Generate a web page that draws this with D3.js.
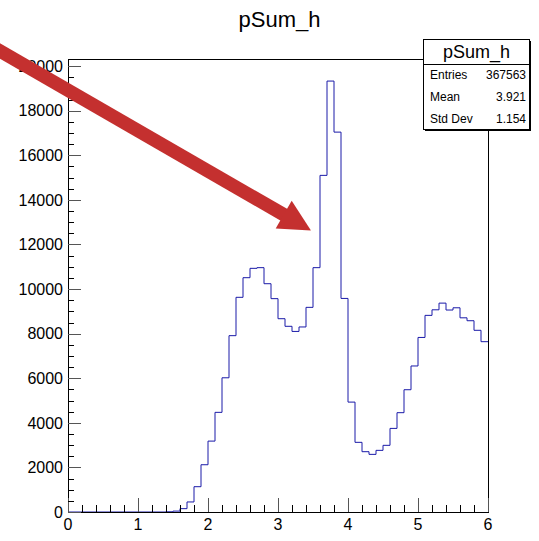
<!DOCTYPE html>
<html><head><meta charset="utf-8">
<script src="https://cdn.jsdelivr.net/npm/d3@7"></script>
<style>
body{margin:0;background:#fff}
svg{display:block}
text{font-family:"Liberation Sans",Arial,Helvetica,sans-serif;fill:#000}
</style>
</head><body>
<script>
// ---- data ----
const histTitle = "pSum_h";
const xMin = 0, xMax = 6;
const counts = [
  0,0,0,0,0,0,0,0,0,0,
  0,0,0,0,10,40,150,450,1135,2120,
  3180,4470,6020,7910,9630,10510,10930,10960,10240,9570,
  8670,8330,8100,8300,9180,10960,15100,19330,17040,9580,
  4930,3125,2705,2585,2765,2990,3750,4455,5485,6550,
  7830,8820,9070,9370,9060,9160,8710,8580,8150,7640
];
const xTickValues = [0,1,2,3,4,5,6];
const yTickValues = [0,2000,4000,6000,8000,10000,12000,14000,16000,18000,20000];
const statLabels = ["Entries","Mean","Std Dev"];
const statValues = ["367563","3.921","1.154"];
const arrowFrom = [-0.971, 20680];
const arrowTo = [3.471, 12630];

// ---- layout ----
const W = 539, H = 541;
const frame = {l:68, r:488, t:59, b:512};
const yMaxDomain = 20320;

const svg = d3.select("body").append("svg").attr("width",W).attr("height",H);

const x = d3.scaleLinear().domain([xMin,xMax]).range([frame.l,frame.r]);
const y = d3.scaleLinear().domain([0,yMaxDomain]).range([frame.b,frame.t]);

const nBins = counts.length;
const bw = (xMax-xMin)/nBins;

// title
svg.append("text").attr("x",279.5).attr("y",27).attr("text-anchor","middle")
  .style("font-size","22px").text(histTitle);

// histogram step line
let pts = [[x(xMin), y(0)]];
counts.forEach((c,i)=>{
  const x0 = x(xMin+i*bw), x1 = x(xMin+(i+1)*bw);
  pts.push([x0,y(c)]); pts.push([x1,y(c)]);
});
svg.append("path").attr("d", d3.line()(pts))
  .attr("fill","none").attr("stroke","#1a1aa8").attr("stroke-width",1);

// frame
svg.append("rect").attr("x",frame.l+0.5).attr("y",frame.t+0.5)
  .attr("width",frame.r-frame.l).attr("height",frame.b-frame.t)
  .attr("fill","none").attr("stroke","#000").attr("stroke-width",1);

// x axis ticks (inside)
const xMinor = d3.range(xMin, xMax+1e-9, 0.2);
svg.append("g").selectAll("line").data(xMinor).join("line")
  .attr("x1",d=>Math.round(x(d))+0.5).attr("x2",d=>Math.round(x(d))+0.5)
  .attr("y1",frame.b).attr("y2",d=>{
     const major = Math.abs(d-Math.round(d))<1e-6;
     return frame.b - (major?14:7);
  })
  .attr("stroke",d=>Math.abs(d-Math.round(d))<1e-6?"#555":"#000").attr("stroke-width",1);

// y axis ticks (inside)
const yMinor = d3.range(0, yMaxDomain, 500);
svg.append("g").selectAll("line").data(yMinor).join("line")
  .attr("y1",d=>Math.round(y(d))+0.5).attr("y2",d=>Math.round(y(d))+0.5)
  .attr("x1",frame.l).attr("x2",d=> frame.l + (d%2000===0?13:6))
  .attr("stroke",d=>d%2000===0?"#555":"#000").attr("stroke-width",1);

svg.append("g").selectAll("text").data(xTickValues).join("text")
  .attr("x",d=>x(d)).attr("y",530).attr("text-anchor","middle")
  .style("font-size","16px").text(d=>d);
svg.append("g").selectAll("text").data(yTickValues).join("text")
  .attr("x",63).attr("y",d=>y(d)).attr("dy","0.36em").attr("text-anchor","end")
  .style("font-size","16px").text(d=>d);

// stats box
const box = {l:423.5, r:529.5, t:39.5, b:129.5, sep:64.5};
svg.append("rect").attr("x",box.l+1.5).attr("y",box.t+1.5)
  .attr("width",box.r-box.l).attr("height",box.b-box.t).attr("fill","#000");
svg.append("rect").attr("x",box.l).attr("y",box.t)
  .attr("width",box.r-box.l).attr("height",box.b-box.t)
  .attr("fill","#fff").attr("stroke","#000").attr("stroke-width",1);
svg.append("line").attr("x1",box.l).attr("x2",box.r).attr("y1",box.sep).attr("y2",box.sep)
  .attr("stroke","#000");
svg.append("text").attr("x",(box.l+box.r)/2).attr("y",57.5).attr("text-anchor","middle")
  .style("font-size","18px").text(histTitle);
const rowY = [78.5, 100.5, 122.5];
statLabels.forEach((s,i)=>{
  svg.append("text").attr("x",430).attr("y",rowY[i]).style("font-size","12px").text(s);
  svg.append("text").attr("x",526).attr("y",rowY[i]).attr("text-anchor","end")
    .style("font-size","12px").text(statValues[i]);
});

// red annotation arrow (on top)
const ax0 = x(arrowFrom[0]), ay0 = y(arrowFrom[1]);
const ax1 = x(arrowTo[0]), ay1 = y(arrowTo[1]);
const dx = ax1-ax0, dy = ay1-ay0, L = Math.hypot(dx,dy);
const ux = dx/L, uy = dy/L, px = -uy, py = ux;
const headLen = 31.5, headHalf = 16;
const bx = ax1-ux*headLen, by = ay1-uy*headLen;
svg.append("line").attr("x1",ax0-ux*10).attr("y1",ay0-uy*10).attr("x2",bx+ux*2).attr("y2",by+uy*2)
  .attr("stroke","#c4302f").attr("stroke-width",13.5);
svg.append("path")
  .attr("d",`M${ax1},${ay1}L${bx+px*headHalf},${by+py*headHalf}L${bx-px*headHalf},${by-py*headHalf}Z`)
  .attr("fill","#c4302f");
</script>
</body></html>
